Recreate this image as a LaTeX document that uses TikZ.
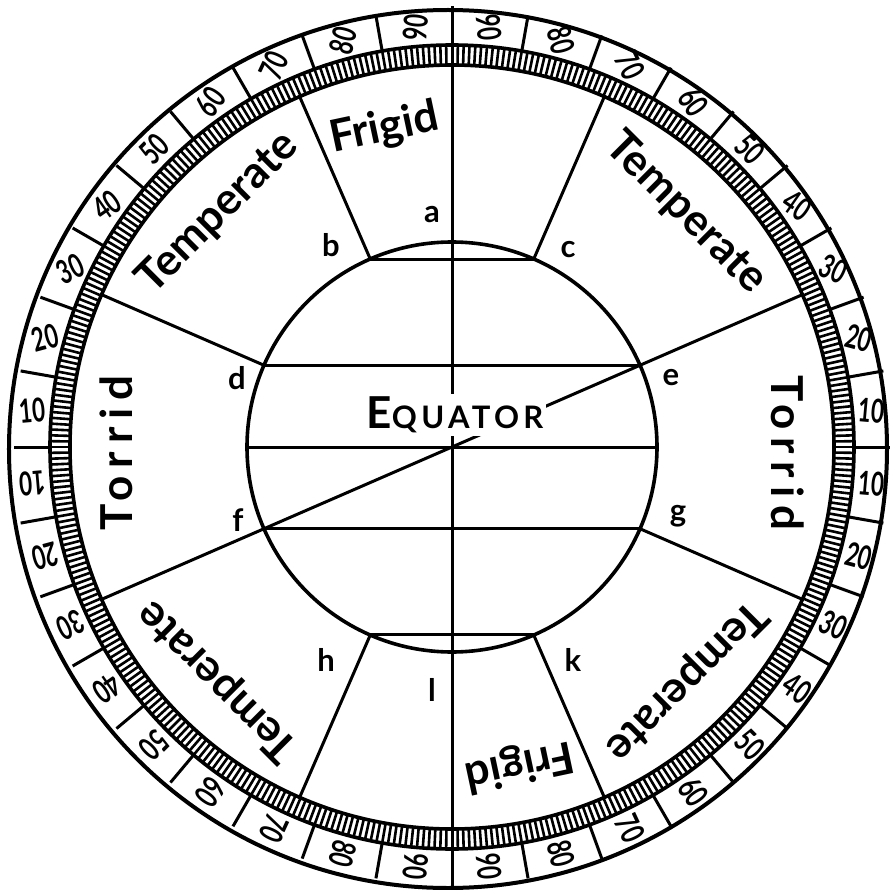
\documentclass[tikz,border=0pt]{standalone}
\usepackage{graphicx}
\usepackage{fontspec}
\setmainfont{Lato}
\newfontfamily\torridfont[LetterSpace=18]{Lato}
\newfontfamily\eqfont[LetterSpace=14]{Lato}
\begin{document}
\begin{tikzpicture}[x=1pt,y=1pt,
  ln/.style={line width=3pt, black},
  ringln/.style={line width=3.6pt, black},
  tickln/.style={line width=2.6pt, black},
  num/.style={inner sep=0pt, font=\fontsize{33}{33}\selectfont\bfseries},
  zone/.style={inner sep=0pt, font=\fontsize{44}{50}\selectfont\bfseries},
  lett/.style={inner sep=0pt, font=\fontsize{31}{31}\selectfont\bfseries}]
\useasboundingbox (-452,-442) rectangle (441,447);
\fill[white] (-452,-442) rectangle (441,447);
\coordinate (O) at (0,0);
% outer rings
\draw[ringln, line width=4pt] (-4,-2) circle (439);
\draw[ringln] (O) circle (402);
\draw[ringln] (O) circle (382);
\foreach \i in {0,...,431}{
  \draw[tickln] ({\i*5/6}:383) -- ({\i*5/6}:401);
}
% cell dividers
\foreach \a in {0,10,...,350}{
  \coordinate (dv\a a) at (\a:402);
  \coordinate (dv\a b) at (\a:438);
  \draw[ln] (dv\a a) -- (dv\a b);
}
% globe
\draw[ringln] (O) circle (205);
\foreach \ang/\nm in {23.5/E,66.5/C,113.5/B,156.5/D,203.5/F,246.5/H,293.5/K,336.5/G}{
  \coordinate (g\nm) at (\ang:205);
  \coordinate (r\nm) at (\ang:382);
  \draw[ln] (g\nm) -- (r\nm);
}
\draw[ln] (gB) -- (gC);
\draw[ln] (gD) -- (gE);
\draw[ln] (gF) -- (gG);
\draw[ln] (gH) -- (gK);
\coordinate (eqL) at (180:205);
\coordinate (eqR) at (0:205);
\draw[ln] (eqL) -- (eqR);
\coordinate (topP) at (90:441);
\coordinate (botP) at (270:441);
\draw[ln] (topP) -- (botP);
\draw[ln] (gF) -- (gE);
\node[fill=white, inner sep=3pt] (equator) at (3,32)
  {\eqfont\bfseries{\fontsize{44}{44}\selectfont E}{\fontsize{31}{31}\selectfont QUATOR}};
% letters
\node[lett] (la) at (-20,232) {a};
\node[lett] (lb) at (-121,202) {b};
\node[lett] (lc) at (116,197) {c};
\node[lett] (ld) at (-215,69) {d};
\node[lett] (le) at (219,69) {e};
\node[lett] (lf) at (-214,-73) {f};
\node[lett] (lg) at (226,-69) {g};
\node[lett] (lh) at (-126,-213) {h};
\node[lett] (ll) at (-20,-243) {l};
\node[lett] (lk) at (121,-213) {k};
% zone names
\node[zone, rotate=12] (z1) at (102:325) {Frigid};
\node[zone, rotate=45] (z2) at (135:331) {Temperate};
\node[zone, rotate=90] (z3) at (181:336) {\torridfont\bfseries Torrid};
\node[zone, rotate=-45] (z4) at (45:331) {Temperate};
\node[zone, rotate=-90] (z5) at (-1:336) {\torridfont\bfseries Torrid};
\node[zone, rotate=-135] (z6) at (-45:331) {Temperate};
\node[zone, rotate=-168] (z7) at (-78:325) {Frigid};
\node[zone, rotate=135] (z8) at (225:331) {Temperate};
% numbers
\foreach \L in {10,20,...,90}{
  \pgfmathsetmacro\t{\L-5}
  \node[num, rotate={-\t}] (nur\L) at ({\t}:421) {\scalebox{0.68}[1]{\L}};
  \node[num, rotate={\t}] (nul\L) at ({180-\t}:421) {\scalebox{0.68}[1]{\L}};
  \node[num, rotate={-\t}] (nlr\L) at ({-\t}:421) {\scalebox{0.68}[1]{\L}};
  \node[num, rotate={\t+180}] (nll\L) at ({180+\t}:421) {\scalebox{0.68}[1]{\L}};
}
\end{tikzpicture}
\end{document}
